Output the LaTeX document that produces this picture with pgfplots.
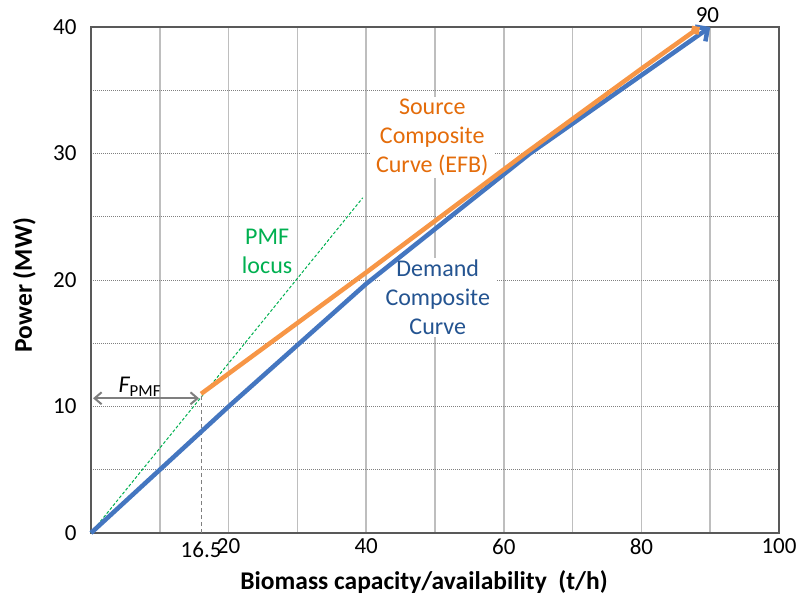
\documentclass[border=0pt]{standalone}
\usepackage{fontspec}
\setmainfont{Carlito}
\usepackage{pgfplots}
\pgfplotsset{compat=1.18}
\usetikzlibrary{arrows.meta}
\definecolor{blueline}{RGB}{68,118,192}
\definecolor{orangeline}{RGB}{247,150,70}
\definecolor{orangetext}{RGB}{228,108,10}
\definecolor{bluetext}{RGB}{36,84,145}
\definecolor{greenline}{RGB}{0,176,80}
\definecolor{axisgray}{RGB}{89,89,89}
\definecolor{gridgray}{RGB}{190,190,190}
\definecolor{dotgray}{RGB}{128,128,128}
\definecolor{arrowgray}{RGB}{127,127,127}
\begin{document}
\begin{tikzpicture}[x=1pt,y=1pt]
\useasboundingbox (-91,-65) rectangle (708,533);
\begin{axis}[
  at={(0,0)}, anchor=south west,
  scale only axis, width=688pt, height=506pt,
  xmin=0, xmax=100, ymin=0, ymax=40,
  clip=false,
  axis line style={draw=axisgray, line width=2pt},
  xtick={10,20,...,100}, xticklabels={,20,,40,,60,,80,,100},
  ytick={0,5,...,40}, yticklabels={0,,10,,20,,30,,40},
  major tick length=0pt,
  xmajorgrids, ymajorgrids,
  x grid style={draw=gridgray, line width=1.5pt},
  y grid style={draw=dotgray, line width=0.9pt, dash pattern=on 1pt off 1pt},
  ticklabel style={font=\fontsize{23}{27}\selectfont, text=black},
  /pgf/number format/assume math mode=true,
  yticklabel style={xshift=-11pt},
  xticklabel style={yshift=-2pt},
  xlabel={\textbf{Biomass capacity/availability\ \ (t/h)}},
  ylabel={\textbf{Power (MW)}},
  label style={font=\fontsize{25.5}{30}\selectfont},
  xlabel style={at={(axis description cs:0.484,-0.074)}, anchor=north, inner sep=0pt},
  ylabel style={at={(axis description cs:-0.08,0.49)}, anchor=south, inner sep=0pt},
]
% annotation text boxes
\node[fill=white, align=center, text=orangetext, font=\fontsize{24}{29}\selectfont, inner xsep=6pt, inner ysep=2pt] at (axis cs:49.6,31.3) {Source\\Composite\\Curve (EFB)};
\node[fill=white, align=center, text=bluetext, font=\fontsize{24}{29}\selectfont, inner xsep=6pt, inner ysep=2pt] at (axis cs:50.4,18.65) {Demand\\Composite\\Curve};
\node[align=center, text=greenline, font=\fontsize{24}{29}\selectfont] at (axis cs:25.6,22.3) {PMF\\locus};
\node[anchor=base, font=\fontsize{24}{29}\selectfont, text=black] at (axis cs:7.1,11.1) {\itshape F\upshape\textsubscript{PMF}};
% PMF locus
\addplot[greenline, line width=1pt, dash pattern=on 3pt off 2pt] coordinates {(0,0) (39.5,26.5)};
% vertical marker at 16.5
\addplot[arrowgray, line width=1pt, dash pattern=on 4pt off 3pt] coordinates {(16,0) (16,11)};
% F_PMF arrow
\addplot[arrowgray, line width=2pt, {Straight Barb[length=7pt,width=12pt]}-{Straight Barb[length=7pt,width=12pt]}] coordinates {(0.3,10.65) (15.7,10.65)};
% Demand composite curve
\addplot[blueline, line width=4.5pt, line join=round, -{Straight Barb[length=9pt,width=18pt]}] coordinates {(0,0) (20,10) (40,19.7) (63.8,30) (76.9,35) (90,40)};
% Source composite curve
\addplot[orangeline, line width=4.5pt, line join=round, -{Straight Barb[length=4pt,width=8pt]}] coordinates {(16,11) (40,20.6) (63.1,30) (80,36.7) (88.5,40)};
% extra tick labels
\node[anchor=north, font=\fontsize{23}{27}\selectfont, inner sep=0pt] at (axis cs:16,0) [yshift=-9pt] {16.5};
\node[anchor=base, font=\fontsize{23}{27}\selectfont, inner sep=0pt] at (axis cs:89.6,40) [yshift=4pt] {90};
\end{axis}
\end{tikzpicture}
\end{document}
